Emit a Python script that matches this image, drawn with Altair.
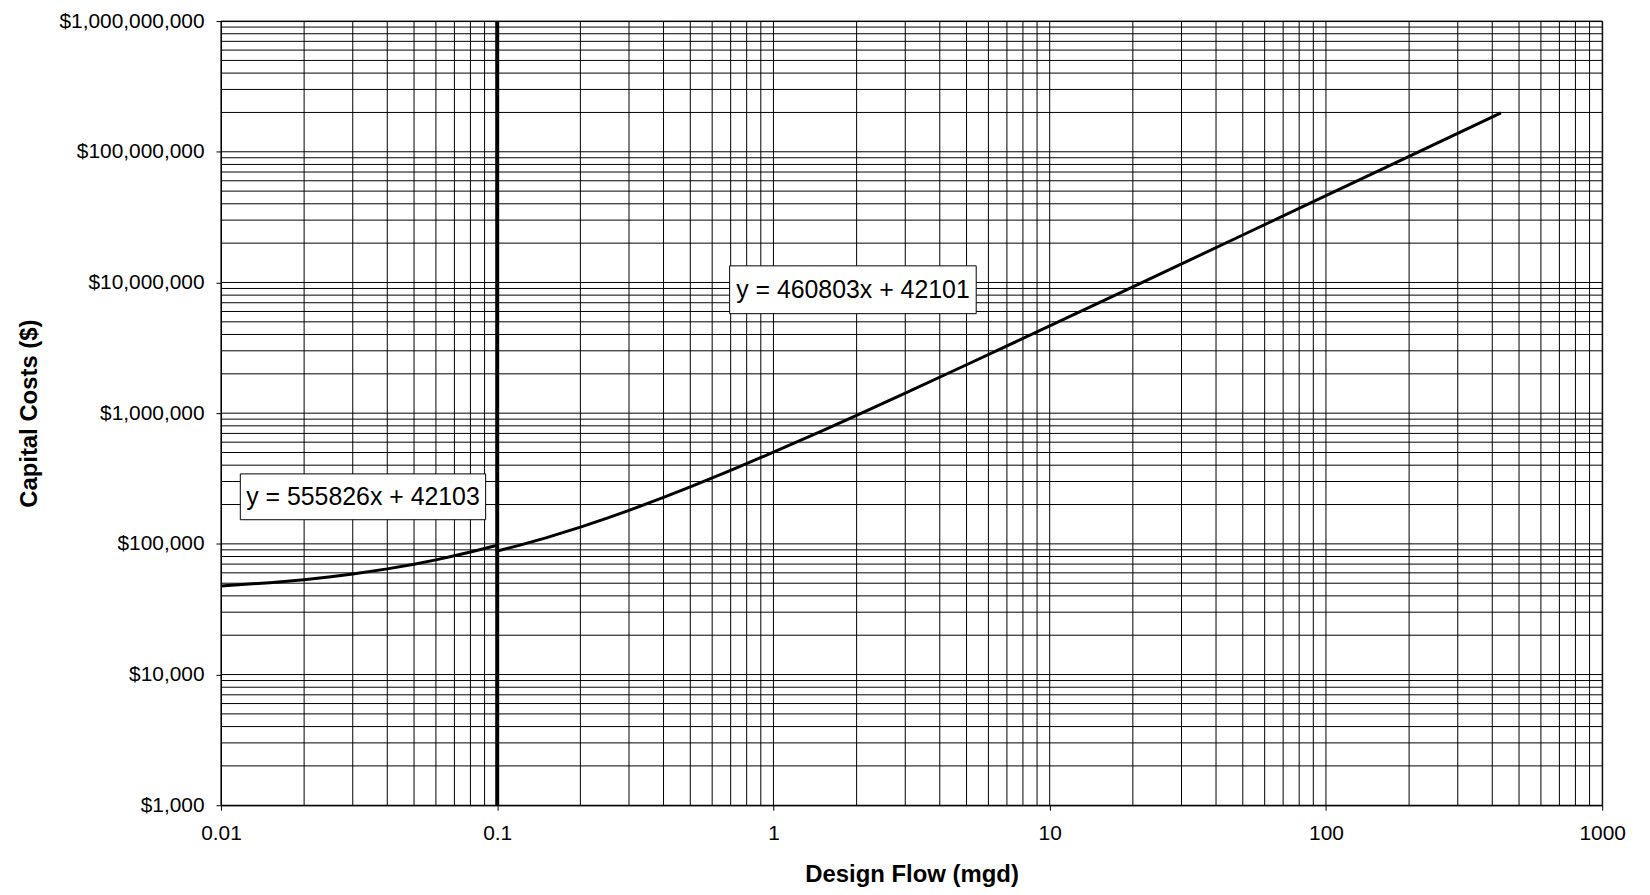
import altair as alt
import pandas as pd

# Curve (design flow in mgd, capital cost in $)
flow = [0.01, 0.015, 0.02, 0.025, 0.03, 0.04, 0.05, 0.06, 0.07, 0.08, 0.09, 0.1,
        0.1, 0.12, 0.15, 0.2, 0.25, 0.3, 0.4, 0.5, 0.7, 1, 1.5, 2, 3, 5, 10, 20, 50,
        100, 200, 430]
cost = [47661, 50440, 53220, 55999, 58778, 64336, 69894, 75453, 81011, 86569, 92127, 97686,
        88181, 97397, 111221, 134262, 157302, 180342, 226422, 272503, 364663, 502904,
        733306, 963707, 1424510, 2346116, 4650131, 9258161, 23082251, 46122401,
        92202701, 198187391]

x_major = [0.01, 0.1, 1, 10, 100, 1000]
y_major = [1e3, 1e4, 1e5, 1e6, 1e7, 1e8, 1e9]
x_grid = [m * 10.0 ** k for k in range(-2, 3) for m in range(1, 10)] + [1000]
y_grid = [m * 10.0 ** k for k in range(3, 9) for m in range(1, 10)] + [1e9]

vline_x = [0.1]

labels = ["y = 555826x + 42103", "y = 460803x + 42101"]
box_x1 = [0.01175, 0.694]
box_x2 = [0.0908, 5.42]
box_y1 = [153000, 5770000]
box_y2 = [343000, 13400000]

FONT = "Liberation Sans"

curve = pd.DataFrame({"flow": flow, "cost": cost, "i": range(len(flow))})
boxes = pd.DataFrame({"label": labels, "x1": box_x1, "x2": box_x2, "y1": box_y1, "y2": box_y2})
boxes["xc"] = (boxes["x1"] * boxes["x2"]) ** 0.5
boxes["yc"] = (boxes["y1"] * boxes["y2"]) ** 0.5

xscale = alt.Scale(type="log", domain=[0.01, 1000], nice=False)
yscale = alt.Scale(type="log", domain=[1e3, 1e9], nice=False)

xaxis = alt.Axis(values=x_major, grid=False, labelExpr="format(datum.value, '~g')",
                 tickSize=5, tickColor="black", domainColor="black", labelPadding=12,
                 labelFlush=False,
                 labelFontSize=21, labelFont=FONT, labelColor="black",
                 title="Design Flow (mgd)", titleFont=FONT, titleFontSize=24,
                 titleFontWeight="bold", titleColor="black", titleY=70, titleBaseline="middle")
yaxis = alt.Axis(values=y_major, grid=False, format="$,.0f",
                 tickSize=5, tickColor="black", domainColor="black", labelPadding=12,
                 labelFlush=False,
                 labelFontSize=21, labelFont=FONT, labelColor="black",
                 title="Capital Costs ($)", titleFont=FONT, titleFontSize=24,
                 titleFontWeight="bold", titleColor="black", titleX=-192, titleY=394,
                 titleAngle=270, titleAlign="center", titleBaseline="middle")

xgrid = alt.Chart(pd.DataFrame({"v": x_grid})).mark_rule(color="black", strokeWidth=1).encode(
    x=alt.X("v:Q", scale=xscale, axis=xaxis))
ygrid = alt.Chart(pd.DataFrame({"v": y_grid})).mark_rule(color="black", strokeWidth=1).encode(
    y=alt.Y("v:Q", scale=yscale, axis=yaxis))
vline = alt.Chart(pd.DataFrame({"v": vline_x})).mark_rule(color="black", strokeWidth=4).encode(
    x=alt.X("v:Q", scale=xscale))
line = alt.Chart(curve).mark_line(color="black", strokeWidth=3).encode(
    x=alt.X("flow:Q", scale=xscale), y=alt.Y("cost:Q", scale=yscale), order="i:Q")
rect = alt.Chart(boxes).mark_rect(fill="white", stroke="black", strokeWidth=1).encode(
    x=alt.X("x1:Q", scale=xscale), x2="x2", y=alt.Y("y1:Q", scale=yscale), y2="y2")
text = alt.Chart(boxes).mark_text(font=FONT, fontSize=25, color="black").encode(
    x=alt.X("xc:Q", scale=xscale), y=alt.Y("yc:Q", scale=yscale), text="label:N")

chart = alt.layer(xgrid, ygrid, vline, line, rect, text).properties(
    width=1388, height=788,
    autosize=alt.AutoSizeParams(type="none"),
    padding={"left": 214, "top": 11, "right": 40, "bottom": 80},
    background="white",
).configure_view(stroke="black", strokeWidth=1)

chart.save("out.html", embed_options={"renderer": "svg", "actions": False})
